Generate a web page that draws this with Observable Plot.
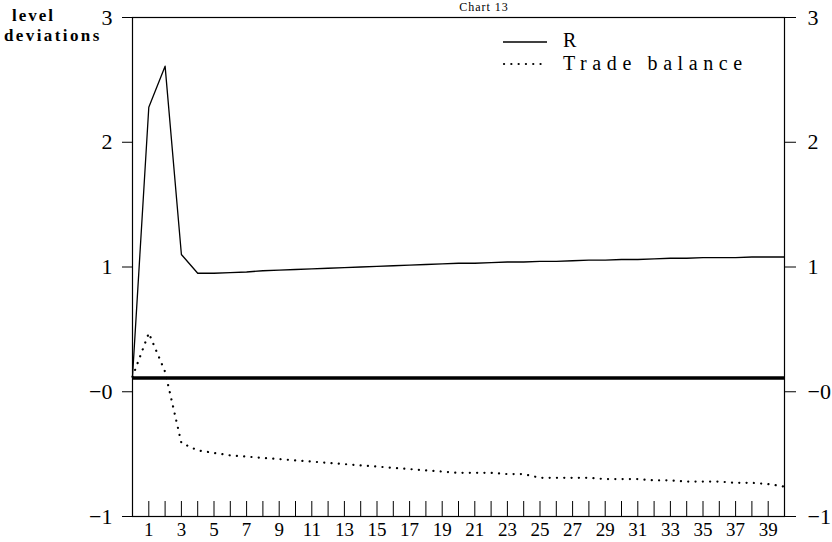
<!DOCTYPE html>
<html><head><meta charset="utf-8">
<script src="https://cdn.jsdelivr.net/npm/d3@7"></script>
<script src="https://cdn.jsdelivr.net/npm/@observablehq/plot@0.6"></script>
<style>
body{margin:0;background:#fff;}
#chart{position:relative;width:832px;height:542px;overflow:hidden;}
</style></head><body><div id="chart"></div>
<script>
const periods = [0,1,2,3,4,5,6,7,8,9,10,11,12,13,14,15,16,17,18,19,20,21,22,23,24,25,26,27,28,29,30,31,32,33,34,35,36,37,38,39,40];
const rValues = [0.12,2.28,2.61,1.10,0.95,0.95,0.955,0.96,0.97,0.975,0.98,0.985,0.99,0.995,1.00,1.005,1.01,1.015,1.02,1.025,1.03,1.03,1.035,1.04,1.04,1.045,1.045,1.05,1.055,1.055,1.06,1.06,1.065,1.07,1.07,1.075,1.075,1.075,1.08,1.08,1.08];
const tradeBalance = [0.12,0.47,0.16,-0.41,-0.47,-0.49,-0.51,-0.52,-0.53,-0.54,-0.55,-0.56,-0.57,-0.58,-0.59,-0.60,-0.61,-0.62,-0.63,-0.64,-0.65,-0.65,-0.65,-0.66,-0.66,-0.69,-0.69,-0.69,-0.69,-0.70,-0.70,-0.70,-0.71,-0.71,-0.72,-0.72,-0.72,-0.73,-0.73,-0.74,-0.76];
const baselineLevel = 0.11;
const yTickValues = [-1,0,1,2,3];
const yTickLabels = ["\u22121","\u22120","1","2","3"];
const xTickValues = [1,2,3,4,5,6,7,8,9,10,11,12,13,14,15,16,17,18,19,20,21,22,23,24,25,26,27,28,29,30,31,32,33,34,35,36,37,38,39];
const xLabelValues = [1,3,5,7,9,11,13,15,17,19,21,23,25,27,29,31,33,35,37,39];
const seriesNames = ["R","Trade balance"];
const titleText = "Chart 13";
const yAxisTitle = ["level","deviations"];

const rows = periods.map((p,i)=>({period:p, r:rValues[i], tb:tradeBalance[i]}));
const W=832,H=542,mL=132,mR=48,mT=17,mB=26;
const innerH = H-mT-mB;
const fontFamily = '"Liberation Serif", "DejaVu Serif", serif';
const fmtY = d => yTickLabels[yTickValues.indexOf(d)];

const chart = Plot.plot({
  width:W, height:H, marginLeft:mL, marginRight:mR, marginTop:mT, marginBottom:mB,
  style:{fontFamily, color:"black", background:"white", overflow:"visible"},
  x:{domain:[0,40], label:null},
  y:{domain:[-1,3], label:null},
  marks:[
    Plot.ruleY([baselineLevel], {stroke:"black", strokeWidth:3.5}),
    Plot.line(rows, {x:"period", y:"r", stroke:"black", strokeWidth:1.3}),
    Plot.line(rows, {x:"period", y:"tb", stroke:"black", strokeWidth:2.2, strokeDasharray:"0.1,7.2", strokeLinecap:"round"}),
    Plot.ruleX(xTickValues, {stroke:"black", strokeWidth:1, insetTop:innerH-15}),
    Plot.frame({stroke:"black", strokeWidth:1.2}),
    Plot.axisY(yTickValues, {anchor:"left", tickSize:10, tickPadding:10, tickFormat:fmtY, fontSize:22, label:null, stroke:"black"}),
    Plot.axisY(yTickValues, {anchor:"right", tickSize:11, tickPadding:12, tickFormat:fmtY, fontSize:22, label:null, stroke:"black"}),
    Plot.axisX(xLabelValues, {anchor:"bottom", tickSize:0, tickPadding:6, fontSize:19, label:null})
  ]
});
document.getElementById("chart").appendChild(chart);

const svg = d3.select(chart);
const t = svg.append("g").attr("font-family", fontFamily).attr("fill","black").attr("text-anchor","start");
t.append("text").attr("x",484).attr("y",11).attr("text-anchor","middle").attr("font-size",12).attr("letter-spacing",1).text(titleText);
t.append("text").attr("x",12).attr("y",21).attr("font-size",17).attr("font-weight","bold").attr("letter-spacing",2).text(yAxisTitle[0]);
t.append("text").attr("x",4).attr("y",41).attr("font-size",17).attr("font-weight","bold").attr("letter-spacing",2.4).text(yAxisTitle[1]);
// legend
const lg = svg.append("g").attr("text-anchor","start").attr("font-family",fontFamily).attr("fill","black");
lg.append("line").attr("x1",503).attr("x2",547).attr("y1",42).attr("y2",42).attr("stroke","black").attr("stroke-width",1.3);
lg.append("line").attr("x1",504).attr("x2",543).attr("y1",64).attr("y2",64).attr("stroke","black").attr("stroke-width",2.2).attr("stroke-dasharray","0.1,7.2").attr("stroke-linecap","round");
lg.append("text").attr("x",563).attr("y",47).attr("font-size",20).attr("letter-spacing",5).text(seriesNames[0]);
lg.append("text").attr("x",563).attr("y",70).attr("font-size",20).attr("letter-spacing",5.6).text(seriesNames[1]);
</script></body></html>
